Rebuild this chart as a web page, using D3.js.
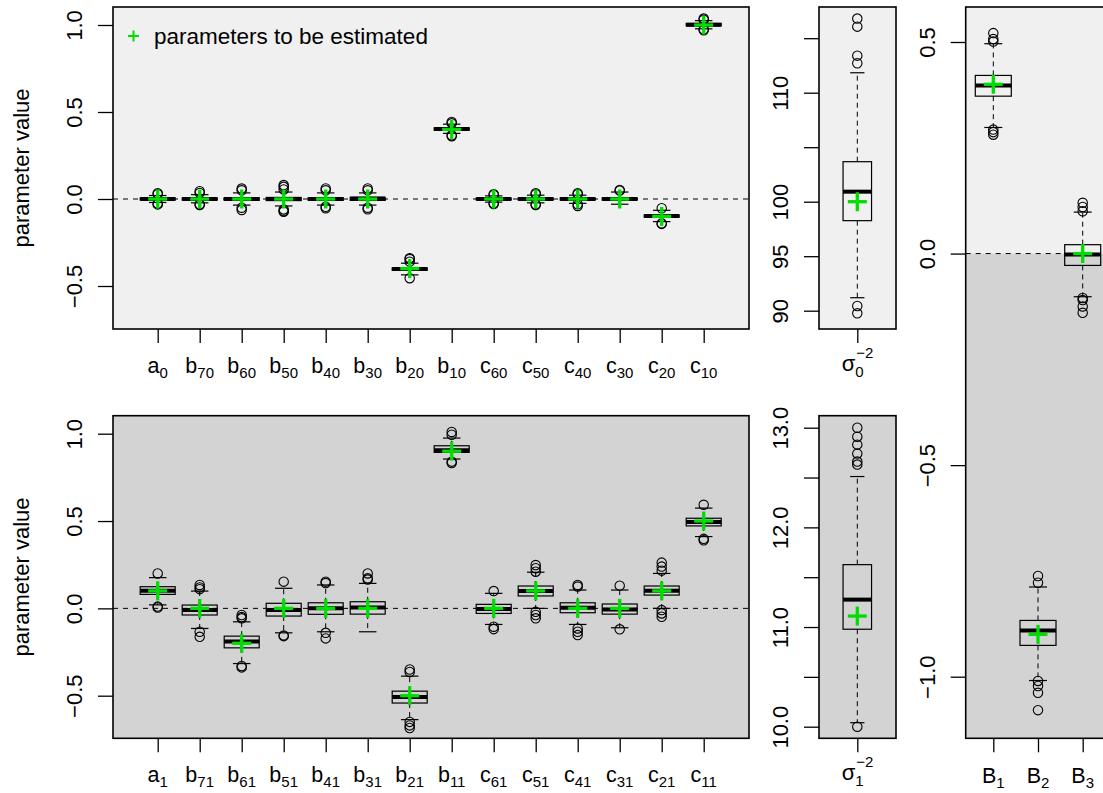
<!DOCTYPE html>
<html><head><meta charset="utf-8">
<script src="https://cdn.jsdelivr.net/npm/d3@7"></script>
<style>body{margin:0;background:#fff} text{font-family:"Liberation Sans",Arial,Helvetica,sans-serif}</style>
</head><body><svg id="c" width="1103" height="793"></svg>
<script>
// ---------------- DATA ----------------
const topCats = ["a0","b70","b60","b50","b40","b30","b20","b10","c60","c50","c40","c30","c20","c10"];
const topTrue = [0,0,0,0,0,0,-0.4,0.4,0,0,0,0,-0.1,1.0];
const topLo   = [-0.02,-0.022,-0.035,-0.04,-0.035,-0.035,-0.436,0.377,-0.018,-0.022,-0.025,-0.03,-0.13,0.978];
const topQ1   = [-0.006,-0.006,-0.008,-0.009,-0.008,-0.008,-0.41,0.395,-0.005,-0.006,-0.006,-0.006,-0.104,0.995];
const topMed  = [0,0,0,0,0,0.003,-0.403,0.402,0,0,0,0,-0.098,1.002];
const topQ3   = [0.006,0.006,0.008,0.009,0.008,0.009,-0.396,0.409,0.005,0.006,0.006,0.006,-0.092,1.009];
const topHi   = [0.02,0.025,0.035,0.04,0.035,0.035,-0.369,0.43,0.018,0.022,0.022,0.04,-0.065,1.025];
const topOutLo = [[-0.026,-0.031],[-0.03,-0.034],[-0.05,-0.063],[-0.06,-0.069,-0.073],[-0.045,-0.053],[-0.05,-0.059],[-0.455],[0.361,0.366],[-0.025,-0.029],[-0.03,-0.034],[-0.03,-0.04],[],[-0.14,-0.143],[0.97,0.975]];
const topOutHi = [[0.028,0.033],[0.035,0.045],[0.05,0.06],[0.055,0.07,0.08],[0.05,0.061],[0.05,0.061],[-0.36,-0.345,-0.34],[0.435,0.443],[0.023,0.027],[0.028,0.033],[0.028,0.033],[0.048,0.052],[-0.053],[1.03,1.037]];

const botCats = ["a1","b71","b61","b51","b41","b31","b21","b11","c61","c51","c41","c31","c21","c11"];
const botTrue = [0.1,0,-0.2,0,0,0,-0.5,0.9,0,0.1,0,0,0.1,0.5];
const botLo   = [0.02,-0.115,-0.316,-0.14,-0.134,-0.134,-0.637,0.855,-0.092,0.0,-0.092,-0.111,0.0,0.411];
const botQ1   = [0.08,-0.038,-0.226,-0.044,-0.034,-0.033,-0.542,0.893,-0.029,0.071,-0.025,-0.033,0.076,0.472];
const botMed  = [0.101,-0.01,-0.19,-0.01,0,0.005,-0.507,0.905,-0.004,0.099,0.003,-0.006,0.101,0.495];
const botQ3   = [0.124,0.019,-0.159,0.029,0.032,0.038,-0.474,0.931,0.023,0.128,0.032,0.025,0.128,0.516];
const botHi   = [0.176,0.099,-0.077,0.115,0.134,0.143,-0.388,0.975,0.086,0.207,0.105,0.105,0.2,0.574];
const botOutLo = [[0.005,0.01],[-0.134,-0.163],[-0.33,-0.338],[-0.155,-0.159],[-0.14,-0.172],[],[-0.65,-0.67,-0.685],[0.832,0.84],[-0.105,-0.119],[-0.02,-0.038,-0.057],[-0.115,-0.134,-0.153],[-0.12],[-0.01,-0.029,-0.048],[0.39,0.398]];
const botOutHi = [[0.2],[0.11,0.12,0.134],[-0.038,-0.05,-0.057],[0.153],[0.145,0.153],[0.165,0.172,0.2],[-0.35,-0.364],[0.994,1.01],[0.099],[0.21,0.23,0.248],[0.125,0.134],[0.13],[0.216,0.239,0.262],[0.593]];

const sig0 = {lo:91.19,q1:98.26,med:100.92,q3:103.67,hi:111.83,outLo:[89.76,90.43],outHi:[112.7,113.4,116.06,116.8]};
const sig0True = 100;
const sig1 = {lo:10.04,q1:10.978,med:11.275,q3:11.626,hi:12.51,outLo:[10.0],outHi:[12.63,12.66,12.74,12.83,12.91,13.0]};
const sig1True = 11.11;

const bCats = ["B1","B2","B3"];
const bTrue = [0.4,-0.9,0];
const bLo   = [0.298,-1.009,-0.102];
const bQ1   = [0.372,-0.926,-0.028];
const bMed  = [0.397,-0.891,-0.002];
const bQ3   = [0.421,-0.867,0.021];
const bHi   = [0.496,-0.788,0.098];
const bOutLo = [[0.281,0.287,0.293],[-1.01,-1.022,-1.038,-1.079],[-0.105,-0.11,-0.125,-0.14]];
const bOutHi = [[0.501,0.507,0.521],[-0.778,-0.762],[0.1,0.11,0.12]];

const paramTicks = [-0.5,0,0.5,1.0];
const sig0Ticks = [90,95,100,105,110,115];
const sig0Labeled = [90,95,100,110];
const sig1Ticks = [10,10.5,11,11.5,12,12.5,13];
const sig1Labeled = [10,11,12,13];
const bTicks = [-1.0,-0.5,0,0.5];
const legendText = "parameters to be estimated";
const yTitle = "parameter value";

// ---------------- DRAWING ----------------
const svg = d3.select("#c");
const FS = 22, GREEN = "#00dd00", LIGHT = "#f0f0f0", DARK = "#d3d3d3";
const fmtNum = d => (d < 0 ? "\u2212" : "") + Math.abs(d).toFixed(1);
const fmtInt = d => String(d);

function statsOf(lo,q1,med,q3,hi,ol,oh){ return lo.map((_,i)=>({lo:lo[i],q1:q1[i],med:med[i],q3:q3[i],hi:hi[i],outLo:ol[i],outHi:oh[i]})); }

function drawBox(g, cx, ys, s, w){
  const half = w/2, cap = w/4;
  g.append("line").attr("x1",cx).attr("x2",cx).attr("y1",ys(s.q3)).attr("y2",ys(s.hi)).attr("stroke","#000").attr("stroke-dasharray","5,4");
  g.append("line").attr("x1",cx).attr("x2",cx).attr("y1",ys(s.q1)).attr("y2",ys(s.lo)).attr("stroke","#000").attr("stroke-dasharray","5,4");
  g.append("line").attr("x1",cx-cap).attr("x2",cx+cap).attr("y1",ys(s.hi)).attr("y2",ys(s.hi)).attr("stroke","#000").attr("stroke-width",1.2);
  g.append("line").attr("x1",cx-cap).attr("x2",cx+cap).attr("y1",ys(s.lo)).attr("y2",ys(s.lo)).attr("stroke","#000").attr("stroke-width",1.2);
  g.append("rect").attr("x",cx-half).attr("width",w).attr("y",ys(s.q3)).attr("height",Math.max(0.5,ys(s.q1)-ys(s.q3))).attr("fill","none").attr("stroke","#000").attr("stroke-width",1.2);
  g.append("line").attr("x1",cx-half).attr("x2",cx+half).attr("y1",ys(s.med)).attr("y2",ys(s.med)).attr("stroke","#000").attr("stroke-width",4);
  s.outLo.concat(s.outHi).forEach(v=>{
    g.append("circle").attr("cx",cx).attr("cy",ys(v)).attr("r",4.7).attr("fill","none").attr("stroke","#000").attr("stroke-width",1.1);
  });
}
function drawPlus(g, cx, cy, size, sw){
  g.append("line").attr("x1",cx-size/2).attr("x2",cx+size/2).attr("y1",cy).attr("y2",cy).attr("stroke",GREEN).attr("stroke-width",sw);
  g.append("line").attr("x1",cx).attr("x2",cx).attr("y1",cy-size/2).attr("y2",cy+size/2).attr("stroke",GREEN).attr("stroke-width",sw);
}
function yAxis(x0, ys, ticks, labeled, fmt){
  const ax = d3.axisLeft(ys).tickValues(ticks).tickSize(15).tickPadding(0)
     .tickFormat(d => labeled.includes(d) ? fmt(d) : "");
  const ga = svg.append("g").attr("transform",`translate(${x0},0)`).call(ax);
  ga.attr("font-size",FS).attr("font-family","Liberation Sans, Arial, sans-serif");
  ga.select(".domain").remove();
  ga.selectAll(".tick line").attr("stroke","#000").attr("stroke-width",1.3);
  ga.selectAll(".tick text").attr("x",0).attr("y",0).attr("dy",null)
    .attr("transform","translate(-31,0) rotate(-90)").attr("text-anchor","middle").attr("fill","#000");
}
function xAxis(y1, xs, vals){
  const ax = d3.axisBottom(xs).tickValues(vals).tickSize(14).tickFormat("");
  const ga = svg.append("g").attr("transform",`translate(0,${y1})`).call(ax);
  ga.select(".domain").remove();
  ga.selectAll(".tick line").attr("stroke","#000").attr("stroke-width",1.3);
}
function subLabel(x, y, lab){
  const t = svg.append("text").attr("x",x).attr("y",y).attr("text-anchor","middle").attr("font-size",21.5).attr("fill","#000");
  t.append("tspan").text(lab[0]);
  t.append("tspan").attr("font-size",15).attr("dy",5).text(lab.slice(1));
}
function sigmaLabel(cx, y, sub){
  svg.append("text").attr("x",cx-2).attr("y",y).attr("text-anchor","end").attr("font-size",22).text("\u03c3");
  svg.append("text").attr("x",cx-2).attr("y",y+6).attr("font-size",15).text(sub);
  svg.append("text").attr("x",cx-1).attr("y",y-13).attr("font-size",15).text("\u22122");
}
function frame(x0,y0,x1,y1){
  svg.append("rect").attr("x",x0).attr("y",y0).attr("width",x1-x0).attr("height",y1-y0).attr("fill","none").attr("stroke","#000").attr("stroke-width",1.6);
}

// ---- left panels ----
const LX0 = 113, LX1 = 749;
const xsL = d3.scaleLinear().domain([1,14]).range([157.7,703.7]);
function leftPanel(y0,y1,ys,bg,cats,stats,truth){
  svg.append("rect").attr("x",LX0).attr("y",y0).attr("width",LX1-LX0).attr("height",y1-y0).attr("fill",bg);
  svg.append("line").attr("x1",LX0).attr("x2",LX1).attr("y1",ys(0)).attr("y2",ys(0)).attr("stroke","#000").attr("stroke-dasharray","5,5");
  const g = svg.append("g");
  stats.forEach((s,i)=>drawBox(g, xsL(i+1), ys, s, 35));
  truth.forEach((v,i)=>drawPlus(g, xsL(i+1), ys(v), 19, 3.3));
  frame(LX0,y0,LX1,y1);
  yAxis(LX0, ys, paramTicks, paramTicks, fmtNum);
  xAxis(y1, xsL, d3.range(1,15));
  cats.forEach((c,i)=>subLabel(xsL(i+1), y1+44, c));
  svg.append("text").attr("transform",`translate(29,${(y0+y1)/2}) rotate(-90)`).attr("text-anchor","middle").attr("font-size",FS).text(yTitle);
}
const ysTL = d3.scaleLinear().domain([-0.5,1.0]).range([286,25]);
const ysBL = d3.scaleLinear().domain([-0.5,1.0]).range([695.7,433.7]);
leftPanel(7,329,ysTL,LIGHT,topCats,statsOf(topLo,topQ1,topMed,topQ3,topHi,topOutLo,topOutHi),topTrue);
leftPanel(415.7,738.3,ysBL,DARK,botCats,statsOf(botLo,botQ1,botMed,botQ3,botHi,botOutLo,botOutHi),botTrue);

// legend
drawPlus(svg, 133.5, 36, 11, 2);
svg.append("text").attr("x",154).attr("y",44).attr("font-size",22.5).text(legendText);

// ---- sigma panels ----
const SX0 = 819, SX1 = 896, SCX = 857.3;
function sigPanel(y0,y1,ys,bg,s,tv,ticks,labeled,fmt,sub){
  svg.append("rect").attr("x",SX0).attr("y",y0).attr("width",SX1-SX0).attr("height",y1-y0).attr("fill",bg);
  const g = svg.append("g");
  drawBox(g, SCX, ys, s, 28.5);
  drawPlus(g, SCX, ys(tv), 19, 3.3);
  frame(SX0,y0,SX1,y1);
  yAxis(SX0, ys, ticks, labeled, fmt);
  const xs1 = d3.scaleLinear().domain([0,1]).range([SCX-50,SCX+50]);
  xAxis(y1, xs1, [0.5]);
  sigmaLabel(SCX, y1+42, sub);
}
const ysS0 = d3.scaleLinear().domain([90,110]).range([310.7,92.7]);
const ysS1 = d3.scaleLinear().domain([10,13]).range([726.7,427.7]);
sigPanel(7,329,ysS0,LIGHT,sig0,sig0True,sig0Ticks,sig0Labeled,fmtInt,"0");
sigPanel(415.7,738.3,ysS1,DARK,sig1,sig1True,sig1Ticks,sig1Labeled,fmtNum,"1");

// ---- B panel ----
const BX0 = 965.7, BX1 = 1110, BY0 = 7, BY1 = 738.3;
const ysB = d3.scaleLinear().domain([-1.0,0.5]).range([676.7,42]);
const xsB = d3.scaleLinear().domain([1,3]).range([993.3,1082.7]);
svg.append("rect").attr("x",BX0).attr("y",BY0).attr("width",BX1-BX0).attr("height",ysB(0)-BY0).attr("fill",LIGHT);
svg.append("rect").attr("x",BX0).attr("y",ysB(0)).attr("width",BX1-BX0).attr("height",BY1-ysB(0)).attr("fill",DARK);
svg.append("line").attr("x1",BX0).attr("x2",BX1).attr("y1",ysB(0)).attr("y2",ysB(0)).attr("stroke","#000").attr("stroke-dasharray","5,5");
const gB = svg.append("g");
statsOf(bLo,bQ1,bMed,bQ3,bHi,bOutLo,bOutHi).forEach((s,i)=>drawBox(gB, xsB(i+1), ysB, s, 36));
bTrue.forEach((v,i)=>drawPlus(gB, xsB(i+1), ysB(v), 19, 3.3));
frame(BX0,BY0,BX1,BY1);
yAxis(BX0, ysB, bTicks, bTicks, fmtNum);
xAxis(BY1, xsB, [1,2,3]);
bCats.forEach((c,i)=>subLabel(xsB(i+1), BY1+45, c));
</script>
</body></html>
